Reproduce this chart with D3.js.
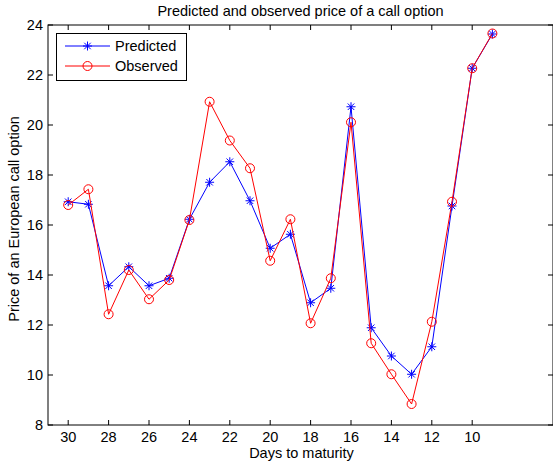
<!DOCTYPE html>
<html><head><meta charset="utf-8">
<script src="https://cdn.jsdelivr.net/npm/d3@7"></script>
<style>body{margin:0;background:#fff}svg{display:block}text{font-family:"Liberation Sans",Arial,sans-serif}</style>
</head><body><svg id="c" width="553" height="467"></svg>
<script>
const days = [30,29,28,27,26,25,24,23,22,21,20,19,18,17,16,15,14,13,12,11,10,9];
const predicted = [16.93,16.83,13.57,14.33,13.57,13.87,16.23,17.71,18.53,16.97,15.07,15.63,12.89,13.47,20.73,11.89,10.76,10.03,11.13,16.76,22.27,23.64];
const observed = [16.80,17.43,12.43,14.20,13.03,13.80,16.20,20.93,19.38,18.27,14.57,16.23,12.07,13.87,20.11,11.27,10.03,8.84,12.13,16.93,22.27,23.66];
const xTicks = [30,28,26,24,22,20,18,16,14,12,10];
const yTicks = [8,10,12,14,16,18,20,22,24];

const svg = d3.select("#c");
const L=48, R=553, T=25, B=425;
const FS = 14.5;
const x = d3.scaleLinear().domain([31,6]).range([L,R]);
const y = d3.scaleLinear().domain([8,24]).range([B,T]);

svg.append("rect").attr("x",L).attr("y",T).attr("width",R-L).attr("height",B-T)
  .attr("fill","none").attr("stroke","#000").attr("stroke-width",1);

const g = svg.append("g");
xTicks.forEach(d=>{
  g.append("line").attr("x1",x(d)).attr("x2",x(d)).attr("y1",B).attr("y2",B-5).attr("stroke","#000");
  g.append("line").attr("x1",x(d)).attr("x2",x(d)).attr("y1",T).attr("y2",T+5).attr("stroke","#000");
  g.append("text").attr("x",x(d)).attr("y",B+17).attr("text-anchor","middle").attr("font-size",FS).text(d);
});
yTicks.forEach(d=>{
  g.append("line").attr("x1",L).attr("x2",L+5).attr("y1",y(d)).attr("y2",y(d)).attr("stroke","#000");
  g.append("line").attr("x1",R-5).attr("x2",R).attr("y1",y(d)).attr("y2",y(d)).attr("stroke","#000");
  g.append("text").attr("x",L-5).attr("y",y(d)+5).attr("text-anchor","end").attr("font-size",FS).text(d);
});

svg.append("text").attr("x",300.5).attr("y",16).attr("text-anchor","middle").attr("font-size",FS).text("Predicted and observed price of a call option");
svg.append("text").attr("x",301.5).attr("y",458).attr("text-anchor","middle").attr("font-size",FS).text("Days to maturity");
svg.append("text").attr("transform","translate(18.5,219) rotate(-90)").attr("text-anchor","middle").attr("font-size",FS).text("Price of an European call option");

const line = d3.line().x(d=>x(d[0])).y(d=>y(d[1]));
const pData = days.map((d,i)=>[d,predicted[i]]);
const oData = days.map((d,i)=>[d,observed[i]]);

function star(sel, cx, cy){
  const r=4.5, k=r*0.72;
  const p=`M${cx-r},${cy}L${cx+r},${cy}M${cx},${cy-r}L${cx},${cy+r}M${cx-k},${cy-k}L${cx+k},${cy+k}M${cx-k},${cy+k}L${cx+k},${cy-k}`;
  sel.append("path").attr("d",p).attr("stroke","#0000ff").attr("stroke-width",1).attr("fill","none");
}

svg.append("path").attr("d",line(pData)).attr("fill","none").attr("stroke","#0000ff").attr("stroke-width",1);
const pm = svg.append("g");
pData.forEach(d=>star(pm,x(d[0]),y(d[1])));

svg.append("path").attr("d",line(oData)).attr("fill","none").attr("stroke","#ff0000").attr("stroke-width",1);
svg.append("g").selectAll("circle").data(oData).join("circle")
  .attr("cx",d=>x(d[0])).attr("cy",d=>y(d[1])).attr("r",4.5)
  .attr("fill","none").attr("stroke","#ff0000").attr("stroke-width",1);

const lg = svg.append("g");
lg.append("rect").attr("x",56.5).attr("y",33.5).attr("width",130).attr("height",47).attr("fill","#fff").attr("stroke","#000");
lg.append("line").attr("x1",65).attr("x2",110).attr("y1",46).attr("y2",46).attr("stroke","#0000ff");
star(lg,87.5,46);
lg.append("text").attr("x",115).attr("y",51).attr("font-size",FS).text("Predicted");
lg.append("line").attr("x1",65).attr("x2",110).attr("y1",66).attr("y2",66).attr("stroke","#ff0000");
lg.append("circle").attr("cx",87.5).attr("cy",66).attr("r",4.5).attr("fill","none").attr("stroke","#ff0000");
lg.append("text").attr("x",115).attr("y",71).attr("font-size",FS).text("Observed");
</script></body></html>
